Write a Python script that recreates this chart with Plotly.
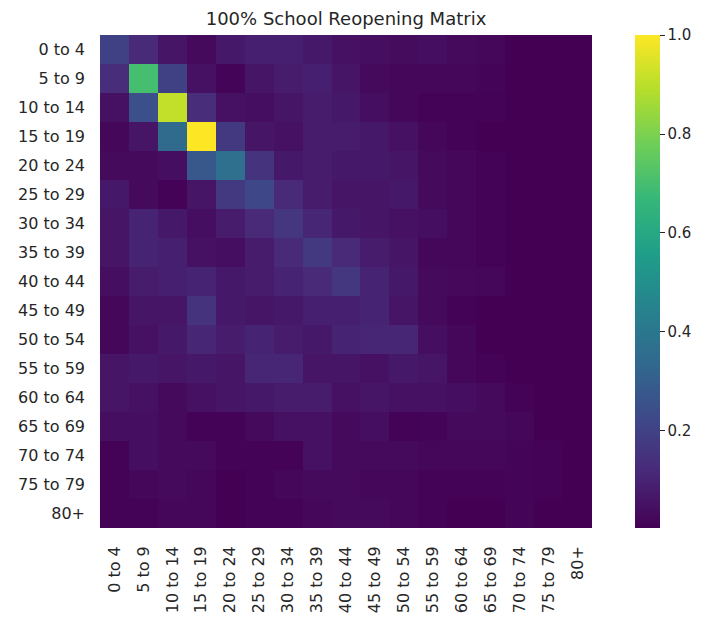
import plotly.graph_objects as go

ages = ["0 to 4", "5 to 9", "10 to 14", "15 to 19", "20 to 24", "25 to 29", "30 to 34",
        "35 to 39", "40 to 44", "45 to 49", "50 to 54", "55 to 59", "60 to 64",
        "65 to 69", "70 to 74", "75 to 79", "80+"]

row_0_4   = [0.20, 0.12, 0.06, 0.03, 0.07, 0.09, 0.09, 0.07, 0.05, 0.04, 0.035, 0.04, 0.03, 0.02, 0.005, 0.005, 0.005]
row_5_9   = [0.13, 0.70, 0.20, 0.05, 0.015, 0.06, 0.08, 0.09, 0.06, 0.03, 0.02, 0.02, 0.02, 0.015, 0.005, 0.005, 0.005]
row_10_14 = [0.05, 0.25, 0.91, 0.13, 0.05, 0.04, 0.06, 0.08, 0.07, 0.04, 0.02, 0.01, 0.01, 0.01, 0.005, 0.005, 0.005]
row_15_19 = [0.02, 0.06, 0.35, 1.00, 0.17, 0.06, 0.05, 0.08, 0.08, 0.07, 0.05, 0.02, 0.01, 0.005, 0.005, 0.005, 0.005]
row_20_24 = [0.03, 0.03, 0.04, 0.28, 0.37, 0.15, 0.07, 0.08, 0.07, 0.07, 0.06, 0.03, 0.02, 0.01, 0.005, 0.005, 0.005]
row_25_29 = [0.07, 0.03, 0.01, 0.06, 0.17, 0.22, 0.12, 0.08, 0.06, 0.06, 0.07, 0.03, 0.02, 0.01, 0.005, 0.005, 0.005]
row_30_34 = [0.06, 0.10, 0.07, 0.04, 0.08, 0.12, 0.16, 0.11, 0.07, 0.06, 0.05, 0.04, 0.02, 0.01, 0.005, 0.005, 0.005]
row_35_39 = [0.06, 0.10, 0.09, 0.05, 0.04, 0.08, 0.12, 0.17, 0.12, 0.08, 0.06, 0.02, 0.02, 0.01, 0.005, 0.005, 0.005]
row_40_44 = [0.04, 0.08, 0.09, 0.10, 0.07, 0.08, 0.10, 0.12, 0.16, 0.10, 0.07, 0.03, 0.025, 0.02, 0.005, 0.005, 0.005]
row_45_49 = [0.02, 0.06, 0.06, 0.15, 0.07, 0.06, 0.07, 0.09, 0.09, 0.10, 0.06, 0.03, 0.01, 0.005, 0.005, 0.005, 0.005]
row_50_54 = [0.02, 0.05, 0.07, 0.11, 0.08, 0.10, 0.08, 0.07, 0.10, 0.11, 0.11, 0.04, 0.02, 0.005, 0.005, 0.005, 0.005]
row_55_59 = [0.06, 0.07, 0.06, 0.07, 0.06, 0.11, 0.11, 0.06, 0.06, 0.05, 0.07, 0.06, 0.02, 0.01, 0.005, 0.005, 0.005]
row_60_64 = [0.06, 0.05, 0.03, 0.05, 0.06, 0.07, 0.08, 0.08, 0.05, 0.06, 0.05, 0.05, 0.04, 0.03, 0.01, 0.005, 0.005]
row_65_69 = [0.04, 0.04, 0.03, 0.01, 0.01, 0.03, 0.05, 0.05, 0.03, 0.04, 0.01, 0.015, 0.03, 0.03, 0.02, 0.005, 0.005]
row_70_74 = [0.01, 0.04, 0.03, 0.03, 0.01, 0.01, 0.01, 0.05, 0.03, 0.03, 0.03, 0.02, 0.02, 0.02, 0.015, 0.01, 0.005]
row_75_79 = [0.01, 0.02, 0.03, 0.02, 0.005, 0.01, 0.02, 0.03, 0.03, 0.02, 0.02, 0.01, 0.01, 0.01, 0.015, 0.01, 0.005]
row_80p   = [0.01, 0.01, 0.02, 0.02, 0.005, 0.01, 0.01, 0.02, 0.03, 0.03, 0.02, 0.01, 0.005, 0.005, 0.015, 0.005, 0.005]

matrix = [row_0_4, row_5_9, row_10_14, row_15_19, row_20_24, row_25_29, row_30_34,
          row_35_39, row_40_44, row_45_49, row_50_54, row_55_59, row_60_64,
          row_65_69, row_70_74, row_75_79, row_80p]

cbar_ticks = [0.2, 0.4, 0.6, 0.8, 1.0]

font_color = "#262626"

fig = go.Figure(go.Heatmap(
    z=matrix, x=ages, y=ages,
    colorscale="Viridis", zmin=0.004, zmax=1.0,
    colorbar=dict(
        xref="paper", x=1.087, xanchor="left", xpad=0, ypad=0,
        y=0.5, yanchor="middle", len=493, lenmode="pixels",
        thickness=25, outlinewidth=0,
        tickvals=cbar_ticks, ticktext=[f"{t:.1f}" for t in cbar_ticks],
        ticks="outside", ticklen=5, tickwidth=1.2, tickcolor=font_color,
        tickfont=dict(size=15, color=font_color),
    ),
))

fig.update_layout(
    width=696, height=609,
    margin=dict(l=92, r=110, t=27, b=89),
    paper_bgcolor="white", plot_bgcolor="white",
    font=dict(family="DejaVu Sans", size=16, color=font_color),
    title=dict(text="100% School Reopening Matrix", x=0.5, xanchor="center", xref="paper",
               y=0.982, yanchor="middle", yref="container",
               font=dict(size=18, color=font_color)),
    xaxis=dict(tickangle=-90, showgrid=False, zeroline=False, ticks="", automargin=False,
               tickfont=dict(size=16, color=font_color), ticklabelstandoff=14),
    yaxis=dict(autorange="reversed", showgrid=False, zeroline=False, ticks="", automargin=False,
               tickfont=dict(size=16, color=font_color), ticklabelstandoff=14),
)

fig.write_html("out.html")
